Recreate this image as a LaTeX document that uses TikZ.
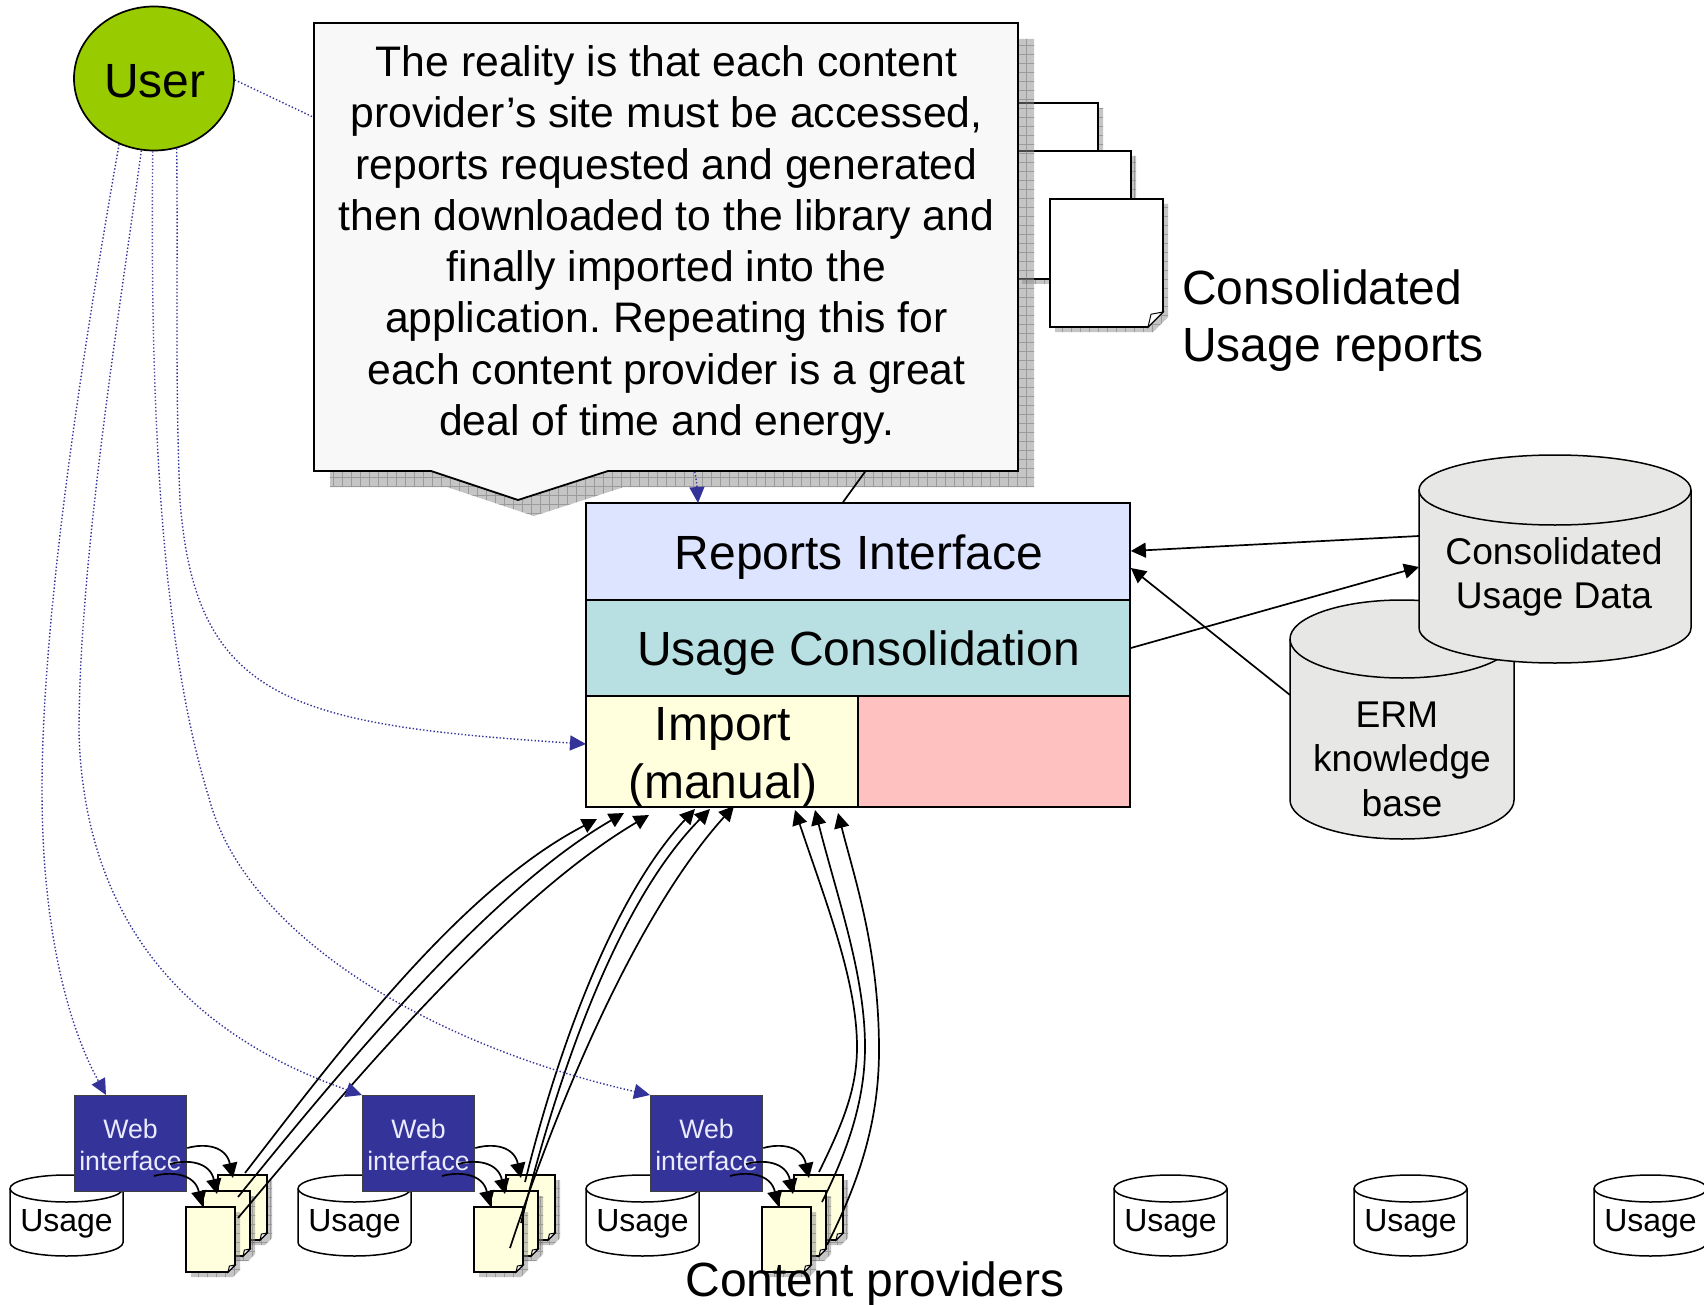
\documentclass[tikz,border=0pt]{standalone}
\usepackage{fontspec}
\setmainfont{Liberation Sans}
\usetikzlibrary{arrows.meta,calc,shapes.geometric}
\frenchspacing
\definecolor{dotblue}{HTML}{333399}
\definecolor{shadowfill}{HTML}{8C8C8C}
\definecolor{shadowgrid}{HTML}{707070}
\definecolor{paperyellow}{HTML}{FFFFDD}
\definecolor{canfill}{HTML}{E7E7E5}
\newcommand{\txt}[2]{\fontsize{#1}{#2}\selectfont}
\newcommand{\hatchshadow}[1]{%
  \begin{scope}[opacity=.5]
    \clip #1;
    \fill[shadowfill] (0,0) rectangle (1704,1305);
    \draw[shadowgrid,line width=.5pt,step=9pt] (0,0) grid (1704,1305);
  \end{scope}}
\newcommand{\pageshape}[7]{%
  \pgfmathsetmacro\pL{#1}\pgfmathsetmacro\pT{#2}\pgfmathsetmacro\pR{#3}\pgfmathsetmacro\pB{#4}\pgfmathsetmacro\pF{#5}%
  \hatchshadow{({\pL+5},{\pT+5}) -- ({\pR+5},{\pT+5}) -- ({\pR+5},{\pB+5-\pF}) -- ({\pR+5-\pF},{\pB+5}) -- ({\pL+5},{\pB+5}) -- cycle}
  \draw[pageline,fill=#6] (\pL,\pT) -- (\pR,\pT) -- (\pR,{\pB-\pF}) -- ({\pR-\pF},\pB) -- (\pL,\pB) -- cycle;
  \draw[pageline,fill=white,line width=1pt] ({\pR-\pF},\pB) -- ({\pR-\pF+.2*\pF},{\pB-.85*\pF}) -- (\pR,{\pB-\pF}) -- cycle;
  \node[name=#7,minimum width={(\pR-\pL)*1pt},minimum height={(\pB-\pT)*1pt},inner sep=0pt] at ({(\pL+\pR)/2},{(\pT+\pB)/2}) {};}
\newcommand{\canshape}[7]{%
  \pgfmathsetmacro\cA{#1}\pgfmathsetmacro\cB{#2}\pgfmathsetmacro\cM{(#1+#2)/2}\pgfmathsetmacro\cK{.5523*(#2-#1)/2}%
  \pgfmathsetmacro\cRy{#5}\pgfmathsetmacro\cKy{.5523*#5}\pgfmathsetmacro\cU{#3+#5}\pgfmathsetmacro\cD{#4-#5}%
  \draw[black,line width=#7,fill=#6] (\cA,\cU)
    .. controls (\cA,{\cU-\cKy}) and ({\cM-\cK},#3) .. (\cM,#3)
    .. controls ({\cM+\cK},#3) and (\cB,{\cU-\cKy}) .. (\cB,\cU)
    -- (\cB,\cD)
    .. controls (\cB,{\cD+\cKy}) and ({\cM+\cK},#4) .. (\cM,#4)
    .. controls ({\cM-\cK},#4) and (\cA,{\cD+\cKy}) .. (\cA,\cD) -- cycle;
  \draw[black,line width=#7] (\cA,\cU)
    .. controls (\cA,{\cU+\cKy}) and ({\cM-\cK},{\cU+\cRy}) .. (\cM,{\cU+\cRy})
    .. controls ({\cM+\cK},{\cU+\cRy}) and (\cB,{\cU+\cKy}) .. (\cB,\cU);}
\tikzset{
  pageline/.style={black,line width=1.7pt,line join=miter},
  stackbox/.style={draw=black,line width=1.7pt,inner sep=0pt},
  bigtext/.style={inner sep=0pt,align=center,font=\txt{48}{58}},
  webbox/.style={draw=black!75,fill=dotblue,line width=1.7pt,minimum width=112pt,minimum height=96pt,inner sep=0pt},
  weblabel/.style={align=center,inner sep=0pt,text=white!92!blue,font=\txt{26.7}{31.5}},
  usagelabel/.style={font=\txt{32}{36},inner sep=0pt},
  dotlink/.style={dotblue,line width=1.4pt,dash pattern=on 1.4pt off 2.1pt,-{Triangle[length=16pt,width=15pt,dotblue]}},
  flow/.style={black,line width=1.7pt,-{Triangle[length=15pt,width=15pt]}},
  canlabel/.style={font=\txt{37.2}{44.5},align=center,inner sep=0pt},
}
\begin{document}
\begin{tikzpicture}[x=1pt,y=-1pt]
\useasboundingbox (0,0) rectangle (1704,1305);
\fill[white] (0,0) rectangle (1704,1305);

% consolidated report pages, behind the callout
\pageshape{985}{103}{1098}{231}{15}{white}{rptA}
\pageshape{1017}{151}{1131}{279}{15}{white}{rptB}
\pageshape{1050}{199}{1163}{327}{15}{white}{rptC}
\node[anchor=west,align=left,inner sep=0pt,font=\txt{48}{57}] (rptlabel) at (1182,320.5) {Consolidated\\Usage reports};

% main stack
\node[stackbox,fill={rgb,255:red,221;green,228;blue,255},minimum width=544pt,minimum height=97pt] (reports) at (858,551.5) {};
\node[stackbox,fill={rgb,255:red,184;green,224;blue,227},minimum width=544pt,minimum height=96pt] (consol) at (858,648) {};
\node[stackbox,fill=paperyellow,minimum width=272pt,minimum height=111pt] (import) at (722,751.5) {};
\node[stackbox,fill={rgb,255:red,255;green,192;blue,192},minimum width=272pt,minimum height=111pt] (blank) at (994,751.5) {};
\node[bigtext] (reportslabel) at (859,557) {Reports Interface};
\node[bigtext] (consollabel) at (858.5,653) {Usage Consolidation};
\node[bigtext] (importlabel) at (723,757.5) {Import\\(manual)};

% user
\node[ellipse,draw=black,line width=1.7pt,fill={rgb,255:red,153;green,204;blue,0},minimum width=160pt,minimum height=144pt,inner sep=0pt] (user) at (154,78.5) {};
\node[bigtext] (userlabel) at (155,81) {User};

% callout shadow, and the links that run underneath the callout
\hatchshadow{(330,39) -- (1034,39) -- (1034,487) -- (624,487) -- (534,516) -- (447,487) -- (330,487) -- cycle}
\coordinate (rptlink) at (912,407);
\draw[black,line width=1.7pt] (reports.north -| 843,0) -- (rptlink);
\coordinate (calltip) at (698,503);
\coordinate (callin) at (313,117);
\draw[dotlink] (user.-1) -- (callin) .. controls (500,210) and (690,380) .. (calltip);

% callout
\draw[black,line width=1.8pt,fill={rgb,255:red,248;green,248;blue,248}] (314,23) -- (1018,23) -- (1018,471) -- (608,471) -- (518,500) -- (431,471) -- (314,471) -- cycle;
\node[align=center,inner sep=0pt,font=\txt{42.7}{51.3}] (callout) at (666.5,245) {The reality is that each content\\provider’s site must be accessed,\\reports requested and generated\\then downloaded to the library and\\finally imported into the\\application. Repeating this for\\each content provider is a great\\deal of time and energy.};

% databases
\canshape{1290}{1514}{600}{839}{39}{canfill}{1.5pt}
\node[canlabel] (erm) at (1402,759) {ERM\hbox to .278em{}\\knowledge\\base};
\canshape{1419}{1691}{455}{663}{35}{canfill}{1.5pt}
\node[canlabel] (cud) at (1554,577) {Consolidated\\Usage Data};
\coordinate (cudA) at (1419,536);
\coordinate (cudB) at (1419,567);
\coordinate (ermA) at (1290,695);
\draw[flow] (cudA) -- (reports.east |- 0,551);
\draw[flow] (consol.east) -- (cudB);
\draw[flow] (ermA) -- (reports.east |- 0,568);

% bottom row of usage databases
\foreach \g/\xa in {1/10,2/298,3/586,4/1114,5/1354,6/1594}{
  \canshape{\xa}{\xa+113}{1175}{1256}{13.5}{white}{1.5pt}
  \node[usagelabel] (usage\g) at (\xa+56.5,1224) {Usage};
}

% content provider groups
\foreach \g/\dx in {1/0,2/288,3/576}{
  \node[webbox] (web\g) at (130.5+\dx,1143.5) {};
  \node[weblabel] (weblabel\g) at (130.5+\dx,1145) {Web\\interface};
  \pageshape{218+\dx}{1175}{267+\dx}{1240}{7}{paperyellow}{backdoc\g}
  \pageshape{203+\dx}{1191}{250+\dx}{1256}{7}{paperyellow}{middoc\g}
  \pageshape{186+\dx}{1207}{235+\dx}{1272}{7}{paperyellow}{frontdoc\g}
  \coordinate (fromA\g) at (web\g.east |- 0,1148);
  \coordinate (fromB\g) at (170+\dx,1164);
  \coordinate (fromC\g) at (154+\dx,1176);
  \draw[flow] (fromA\g) .. controls (205+\dx,1143) and (226+\dx,1146) .. (233+\dx,1178);
  \draw[flow] (fromB\g) .. controls (188+\dx,1159) and (210+\dx,1162) .. (217+\dx,1194);
  \draw[flow] (fromC\g) .. controls (172+\dx,1171) and (195+\dx,1174) .. (202+\dx,1206);
}

% long arrows into Import
\coordinate (aA) at (245,1173); \coordinate (aB) at (238,1197); \coordinate (aC) at (238,1218);
\coordinate (bA) at (525,1182); \coordinate (bB) at (521,1223); \coordinate (bC) at (510,1248);
\coordinate (cA) at (819,1172); \coordinate (cB) at (822,1202); \coordinate (cC) at (827,1245);
\draw[flow] (aA) .. controls (340,1050) and (460,890) .. (597,819);
\draw[flow] (aB) .. controls (345,1065) and (490,890) .. (624,813);
\draw[flow] (aC) .. controls (350,1085) and (505,900) .. (649,815);
\draw[flow] (bA) .. controls (555,1060) and (610,900) .. (695,809);
\draw[flow] (bB) .. controls (560,1065) and (620,900) .. (710,809);
\draw[flow] (bC) .. controls (562,1090) and (640,910) .. (734,806);
\draw[flow] (cA) .. controls (842,1125) and (857,1090) .. (857,1047) .. controls (857,980) and (825,900) .. (795,810);
\draw[flow] (cB) .. controls (848,1150) and (865,1100) .. (865,1047) .. controls (865,975) and (838,900) .. (815,810);
\draw[flow] (cC) .. controls (860,1180) and (879,1120) .. (879,1050) .. controls (879,950) and (855,880) .. (838,813);

% dotted links from the user
\coordinate (toWebA) at (106,1095);
\coordinate (toWebB) at (362,1095);
\coordinate (toWebC) at (650,1095);
\coordinate (toImport) at (586,744);
\draw[dotlink] (user.242) .. controls (90,310) and (42,600) .. (42,790) .. controls (42,920) and (65,1020) .. (toWebA);
\draw[dotlink] (user.260) .. controls (120,310) and (79,560) .. (79,733) .. controls (84,910) and (175,1030) .. (toWebB);
\draw[dotlink] (user.269) .. controls (150,400) and (160,640) .. (209,798) .. controls (245,935) and (430,1045) .. (toWebC);
\draw[dotlink] (user.288) .. controls (178,280) and (175,380) .. (180,500) .. controls (195,700) and (290,725) .. (toImport);

\node[inner sep=0pt,font=\txt{48}{57}] (providers) at (875,1284.5) {Content providers};
\end{tikzpicture}
\end{document}
